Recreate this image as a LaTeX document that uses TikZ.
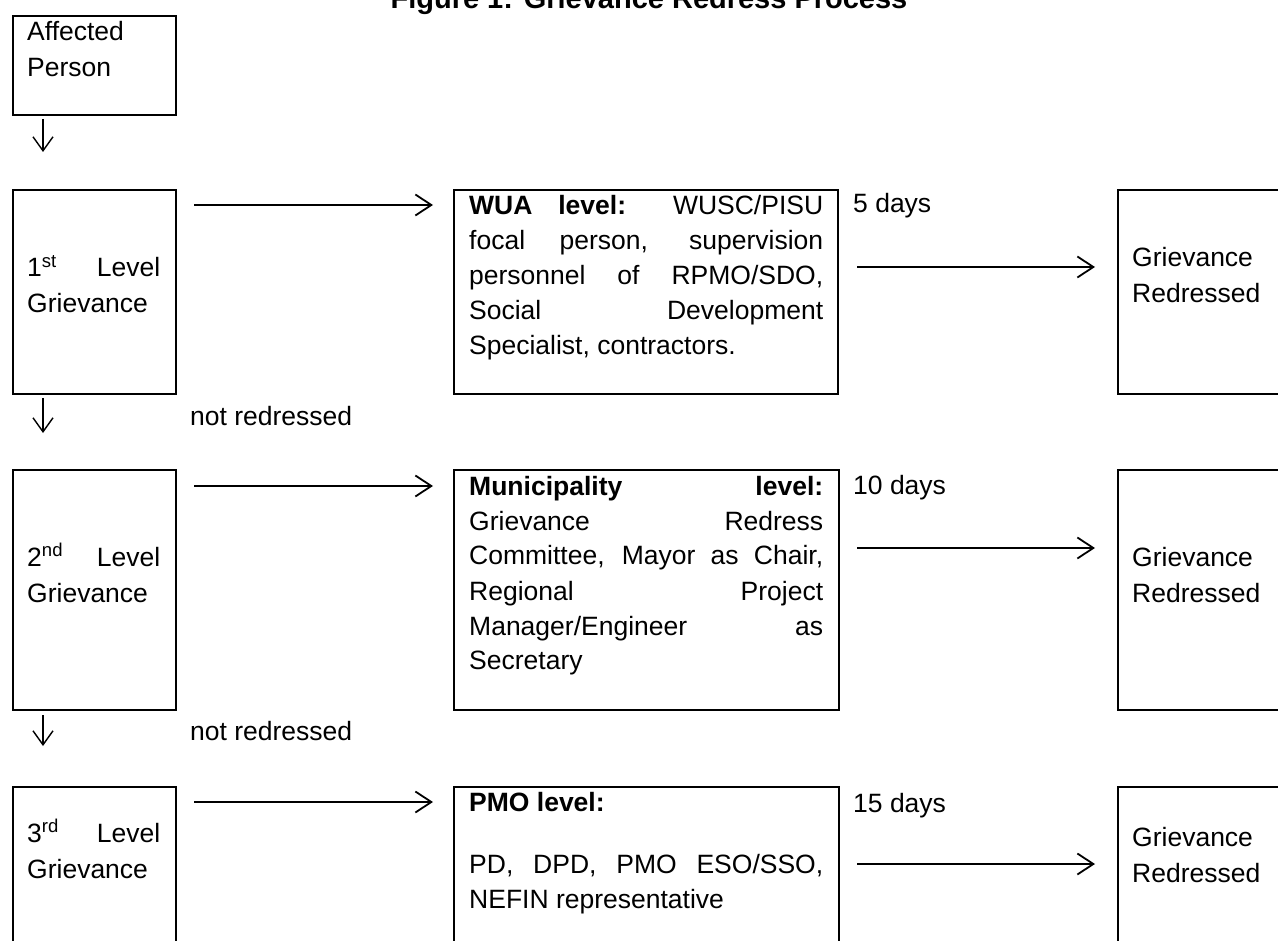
\documentclass[tikz,border=0pt]{standalone}
\usepackage{fontspec}
\setmainfont{Liberation Sans}
\usetikzlibrary{arrows.meta}
\hyphenpenalty=10000
\exhyphenpenalty=10000
\begin{document}
\begin{tikzpicture}[x=1pt,y=-1pt,
  box/.style={draw, line width=2pt, inner sep=0pt, anchor=north west},
  txt/.style={anchor=base west, inner sep=0pt, font=\fontsize{26.5}{35}\selectfont},
  sidetxt/.style={anchor=base west, inner sep=0pt, font=\fontsize{26.5}{36}\selectfont},
  harr/.style={line width=1.8pt, -{Straight Barb[length=16pt,width=21pt]}},
  varr/.style={line width=1.4pt, -{Straight Barb[length=14pt,width=20pt]}},
]
\useasboundingbox (0,0) rectangle (1278,941);
\clip (0,0) rectangle (1278,941);
\fill[white] (0,0) rectangle (1278,941);

% title
\node[anchor=base, inner sep=0pt, font=\bfseries\fontsize{29}{30}\selectfont] (title) at (649,9) {Figure 1: Grievance Redress Process};

% boxes
\node[box, minimum width=163pt, minimum height=99pt] (AP) at (12,15) {};
\node[box, minimum width=163pt, minimum height=204pt] (L1) at (12,189) {};
\node[box, minimum width=384pt, minimum height=204pt] (M1) at (453,189) {};
\node[box, minimum width=300pt, minimum height=204pt] (R1) at (1117,189) {};
\node[box, minimum width=163pt, minimum height=240pt] (L2) at (12,469) {};
\node[box, minimum width=385pt, minimum height=240pt] (M2) at (453,469) {};
\node[box, minimum width=300pt, minimum height=240pt] (R2) at (1117,469) {};
\node[box, minimum width=163pt, minimum height=250pt] (L3) at (12,786) {};
\node[box, minimum width=385pt, minimum height=250pt] (M3) at (453,786) {};
\node[box, minimum width=300pt, minimum height=250pt] (R3) at (1117,786) {};

% texts
\node[sidetxt] (tAP) at (27,41) {\parbox[t]{140pt}{\raggedright Affected\\Person}};
\node[sidetxt] (tL1) at (27,277) {\parbox[t]{133pt}{1\textsuperscript{st} Level\linebreak Grievance}};
\node[sidetxt] (tL2) at (27,566) {\parbox[t]{133pt}{2\textsuperscript{nd} Level\linebreak Grievance}};
\node[sidetxt] (tL3) at (27,842) {\parbox[t]{133pt}{3\textsuperscript{rd} Level\linebreak Grievance}};

\node[txt] (tM1) at (469,215) {\parbox[t]{354pt}{\textbf{WUA level:} WUSC/PISU\linebreak focal person, supervision\linebreak personnel of RPMO/SDO,\linebreak Social Development\linebreak Specialist, contractors.}};
\node[txt] (tM2) at (469,495) {\parbox[t]{354pt}{\textbf{Municipality level:}\linebreak Grievance Redress\linebreak Committee, Mayor as Chair,\linebreak Regional Project\linebreak Manager/Engineer as\linebreak Secretary}};
\node[txt] (tM3) at (469,811) {\parbox[t]{354pt}{\textbf{PMO level:}\par\vspace{27pt}PD, DPD, PMO ESO/SSO,\linebreak NEFIN representative}};

\node[sidetxt] (tR1) at (1132,267) {\parbox[t]{140pt}{\raggedright Grievance\\Redressed}};
\node[sidetxt] (tR2) at (1132,566) {\parbox[t]{140pt}{\raggedright Grievance\\Redressed}};
\node[sidetxt] (tR3) at (1132,846) {\parbox[t]{140pt}{\raggedright Grievance\\Redressed}};

\node[txt] (d1) at (853,213) {5 days};
\node[txt] (d2) at (853,494) {10 days};
\node[txt] (d3) at (853,812) {15 days};

\node[txt] (n1) at (190,425) {not redressed};
\node[txt] (n2) at (190,740) {not redressed};

% vertical arrows
\draw[varr] ([xshift=31pt,yshift=-3pt]AP.south west) -- ([xshift=31pt,yshift=37pt]L1.north west);
\draw[varr] ([xshift=31pt,yshift=-3pt]L1.south west) -- ([xshift=31pt,yshift=36pt]L2.north west);
\draw[varr] ([xshift=31pt,yshift=-4pt]L2.south west) -- ([xshift=31pt,yshift=40pt]L3.north west);

% horizontal arrows
\draw[harr] ([xshift=17pt,yshift=-16pt]L1.north east) -- ([xshift=-20pt,yshift=-16pt]M1.north west);
\draw[harr] ([xshift=18pt,yshift=-78pt]M1.north east) -- ([xshift=-22pt,yshift=-78pt]R1.north west);
\draw[harr] ([xshift=17pt,yshift=-17pt]L2.north east) -- ([xshift=-20pt,yshift=-17pt]M2.north west);
\draw[harr] ([xshift=17pt,yshift=-79pt]M2.north east) -- ([xshift=-22pt,yshift=-79pt]R2.north west);
\draw[harr] ([xshift=17pt,yshift=-16pt]L3.north east) -- ([xshift=-20pt,yshift=-16pt]M3.north west);
\draw[harr] ([xshift=17pt,yshift=-78pt]M3.north east) -- ([xshift=-22pt,yshift=-78pt]R3.north west);
\end{tikzpicture}
\end{document}
